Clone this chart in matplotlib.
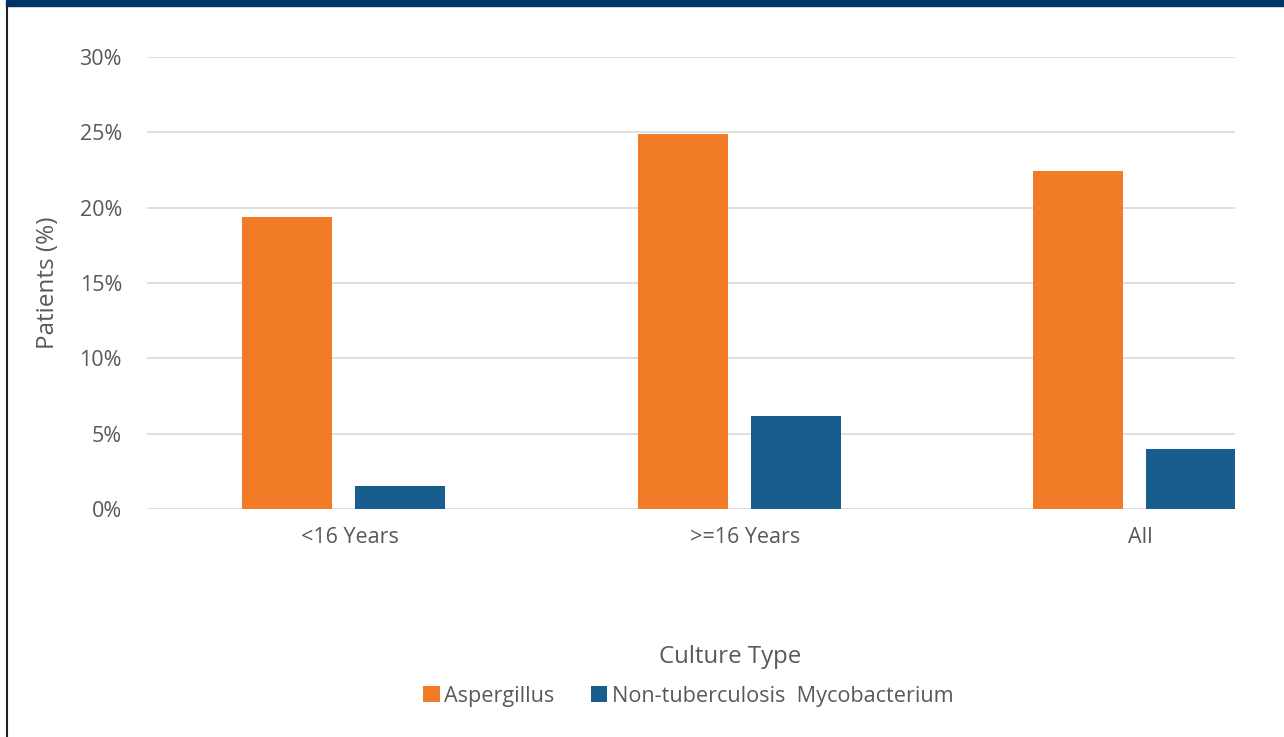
#!/usr/bin/env python3
"""Grouped bar chart of positive cultures by patient age group."""

import numpy as np
from matplotlib import pyplot as plt
from matplotlib.patches import Rectangle
from matplotlib.ticker import PercentFormatter

groups = ["<16 Years", ">=16 Years", "All"]
aspergillus = [19.4, 24.9, 22.4]
ntm = [1.5, 6.2, 4.0]
series_names = ["Aspergillus", "Non-tuberculosis  Mycobacterium"]
yticks = [0, 5, 10, 15, 20, 25, 30]

ORANGE = "#F27B28"
BLUE = "#175E8F"
GREY = "#595959"


def main():
    plt.rcParams["font.family"] = ["Open Sans", "DejaVu Sans"]
    fig = plt.figure(figsize=(12.84, 7.37), dpi=100)

    # slide header band and left frame edge
    fig.patches.append(Rectangle((0.005, 0.992), 0.995, 0.008, transform=fig.transFigure,
                                 color="#003366", zorder=0))
    fig.add_artist(plt.Line2D([0.0051, 0.0051], [0, 0.992], transform=fig.transFigure,
                              color="#222222", lw=1.5))

    ax = fig.add_axes([0.1145, 0.3094, 0.8474, 0.6133])
    x = np.arange(len(groups))
    w = 0.2276
    off = 0.1429
    ax.bar(x - off, aspergillus, w, color=ORANGE, label=series_names[0], zorder=2)
    ax.bar(x + off, ntm, w, color=BLUE, label=series_names[1], zorder=2)

    ax.set_xlim(-0.497, 2.254)
    ax.set_ylim(0, 30)
    ax.set_yticks(yticks)
    ax.yaxis.set_major_formatter(PercentFormatter(decimals=0))
    ax.grid(axis="y", color="#D9D9D9", lw=1.2, zorder=0)
    for s in ax.spines.values():
        s.set_visible(False)
    ax.tick_params(length=0, labelsize=15.5, labelcolor=GREY)
    ax.tick_params(axis="y", pad=18)
    ax.tick_params(axis="x", pad=13)
    ax.set_xticks(x + 0.015, groups)

    ax.set_ylabel("Patients (%)", fontsize=17.5, color=GREY, labelpad=14)
    fig.text(0.5685, 0.108, "Culture Type", ha="center", va="center",
             fontsize=17.3, color=GREY)
    fig.legend(loc="center", bbox_to_anchor=(0.536, 0.055), ncol=2, frameon=False,
               fontsize=15.6, handlelength=0.75, handleheight=0.75, handletextpad=0.2,
               columnspacing=1.7, labelcolor=GREY)

    fig.savefig("out.png", dpi=100, facecolor="white")


if __name__ == "__main__":
    main()
